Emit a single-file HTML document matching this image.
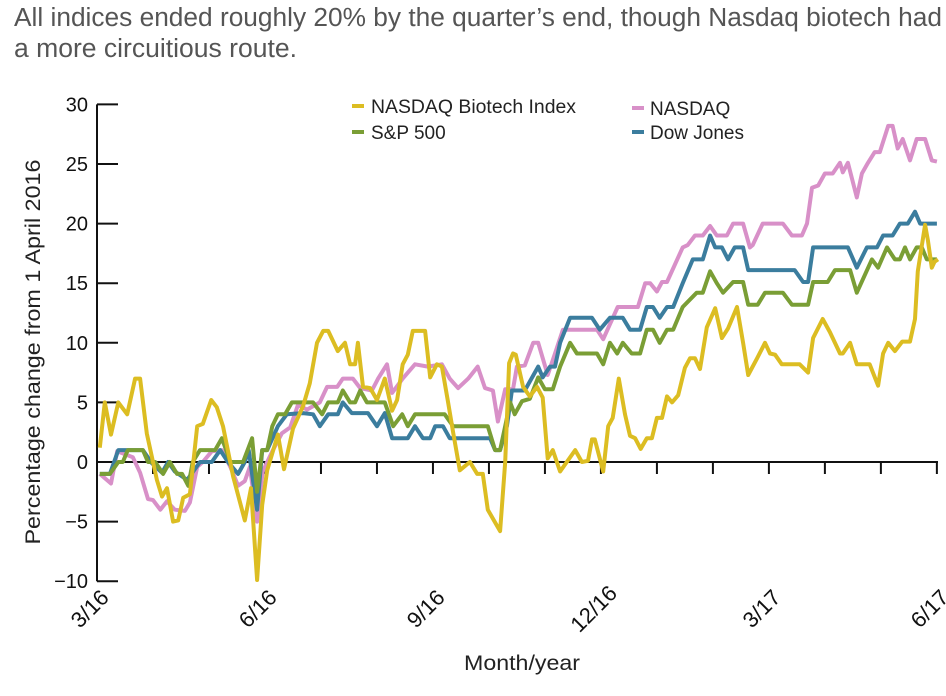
<!DOCTYPE html>
<html><head><meta charset="utf-8"><style>
body{margin:0;background:#fff;width:946px;height:691px;overflow:hidden;font-family:"Liberation Sans",sans-serif}
</style></head><body>
<svg id="chart" width="946" height="691" xmlns="http://www.w3.org/2000/svg" font-family="Liberation Sans, sans-serif">
<text x="14" y="26" font-size="25.5" fill="#555" textLength="928" lengthAdjust="spacingAndGlyphs">All indices ended roughly 20% by the quarter’s end, though Nasdaq biotech had</text>
<text x="14" y="57" font-size="25.5" fill="#555" textLength="283" lengthAdjust="spacingAndGlyphs">a more circuitious route.</text>
<g id="axes"></g>
<g id="series"></g>
<text transform="translate(40,352) rotate(-90)" text-anchor="middle" font-size="21" fill="#222" textLength="385" lengthAdjust="spacingAndGlyphs">Percentage  change from 1 April 2016</text>
<text x="522" y="670" text-anchor="middle" font-size="21" fill="#222" textLength="116" lengthAdjust="spacingAndGlyphs">Month/year</text>
<g font-size="19" fill="#222">
<rect x="352" y="104" width="12" height="4" fill="#dcbd22"/>
<text x="371" y="113" textLength="205" lengthAdjust="spacingAndGlyphs">NASDAQ Biotech Index</text>
<rect x="352" y="130" width="12" height="4" fill="#7a9e35"/>
<text x="371" y="139">S&amp;P 500</text>
<rect x="632" y="106" width="12" height="4" fill="#d890c8"/>
<text x="650" y="115">NASDAQ</text>
<rect x="632" y="130" width="12" height="4" fill="#3b7d9e"/>
<text x="650" y="139">Dow Jones</text>
</g>
</svg>
<script>
const yTicks=[30,25,20,15,10,5,0,-5,-10];
const xTickLabels=["3/16","6/16","9/16","12/16","3/17","6/17"];
const xTickMonths=[0,3,6,9,12,15];
const biotechM=[0.05,0.14,0.25,0.38,0.54,0.68,0.77,0.89,1.07,1.16,1.25,1.36,1.45,1.54,1.66,1.79,1.89,2.04,2.14,2.25,2.43,2.64,2.75,2.86,2.95,3.04,3.23,3.34,3.50,3.68,3.80,3.93,4.04,4.13,4.30,4.43,4.52,4.61,4.66,4.75,4.88,5.00,5.14,5.27,5.36,5.46,5.55,5.64,5.86,5.95,6.07,6.16,6.27,6.36,6.48,6.66,6.79,6.89,6.98,7.20,7.29,7.36,7.43,7.48,7.61,7.73,7.86,7.96,8.05,8.14,8.27,8.39,8.54,8.66,8.77,8.84,8.89,9.04,9.13,9.21,9.32,9.43,9.52,9.61,9.71,9.82,9.91,10.0,10.09,10.18,10.27,10.38,10.5,10.59,10.68,10.77,10.89,11.04,11.16,11.27,11.43,11.54,11.63,11.79,11.93,12.02,12.11,12.23,12.55,12.70,12.79,12.96,13.09,13.27,13.32,13.45,13.57,13.80,13.95,14.04,14.13,14.25,14.38,14.52,14.61,14.66,14.79,14.84,14.91,14.96,15.02];
const biotechV=[1.2,5,2.3,5,4,7,7,2.4,-1.5,-2.9,-2.2,-5,-4.9,-3,-2.7,3,3.2,5.2,4.6,3,-1.2,-4.9,-2.2,-9.9,-3.6,-0.7,2.3,-0.6,2.8,4.7,6.6,10,11,11,9.3,10,8.2,8.2,10,6.3,6.2,5.2,7,4.3,5.2,8.2,9,11,11,7.1,8.2,8,5,2.5,-0.7,0,-1,-1,-4,-5.8,0,8.3,9.1,9,6.3,5.5,6.3,5.4,0.3,1,-0.8,0,1,0,0.1,1.9,1.9,-0.8,3,3.7,7,4,2.2,2,1.1,2,2,3.7,3.7,5.5,5,5.6,7.9,8.7,8.7,7.8,11.3,12.9,10.4,11.2,13,10,7.3,8.7,10,9.1,9,8.2,8.2,7.5,10.4,12,10.9,9.1,9.1,10,8.2,8.2,6.4,9.1,10,9.3,10.1,10.1,12,16,19.9,18.6,16.3,16.8,17];
const nasdaqM=[0.05,0.25,0.36,0.64,0.77,0.91,1.0,1.13,1.25,1.39,1.57,1.66,1.79,1.89,2.05,2.23,2.38,2.52,2.64,2.73,2.86,2.96,3.13,3.30,3.45,3.59,3.75,3.98,4.11,4.29,4.39,4.57,4.70,4.91,5.02,5.18,5.27,5.46,5.68,5.91,6.16,6.30,6.45,6.63,6.80,6.93,7.07,7.16,7.29,7.43,7.5,7.64,7.79,7.88,8.05,8.18,8.32,8.93,9.04,9.30,9.66,9.79,9.88,10.0,10.09,10.18,10.46,10.55,10.68,10.82,10.95,11.07,11.25,11.36,11.54,11.66,11.71,11.89,12.25,12.41,12.59,12.68,12.77,12.88,13.0,13.14,13.27,13.32,13.41,13.57,13.66,13.77,13.89,13.98,14.13,14.21,14.30,14.39,14.52,14.64,14.79,14.91,15.0];
const nasdaqV=[-1,-1.8,0.9,0.4,-0.9,-3.1,-3.2,-4,-3.3,-4,-4.1,-3.4,-0.4,0,0.9,1,-0.4,-2,-1.6,-0.4,-5,-0.8,0.9,2.4,2.9,4.8,4.4,5,6.3,6.3,7,7,6.2,6,7,8.2,5.8,7,8.2,8,8.2,7,6.2,7,8,6.2,6,3.4,6.1,6.1,8,8.1,10,10,7.3,9.1,11.1,11.1,10.3,13,13,15,15,14.3,15.1,15.1,18,18.2,19,19,19.8,19,19,20,20,18,18.2,20,20,19,19,20,23,23.2,24.2,24.2,25.1,24.3,25.1,22.2,24.2,25.1,26,26,28.2,28.2,26.3,27.1,25.3,27.1,27.1,25.3,25.2];
const dowM=[0.05,0.23,0.38,0.82,0.98,1.16,1.27,1.39,1.61,1.84,2.05,2.20,2.34,2.52,2.64,2.71,2.86,2.95,3.04,3.23,3.39,3.68,3.86,3.98,4.13,4.30,4.39,4.55,4.84,5.0,5.14,5.27,5.55,5.68,5.82,5.95,6.04,6.18,6.30,7.02,7.11,7.20,7.32,7.41,7.64,7.88,7.96,8.09,8.18,8.27,8.45,8.84,8.98,9.16,9.39,9.52,9.70,9.82,9.93,10.05,10.18,10.29,10.46,10.64,10.82,10.95,11.04,11.16,11.27,11.39,11.54,11.63,12.46,12.61,12.70,12.79,13.41,13.57,13.75,13.93,14.04,14.21,14.34,14.48,14.61,14.70,15.0];
const dowV=[-1,-1,1,1,-0.1,-0.9,0,-0.8,-1.5,0,0,1,0,-1,0,1,-4,1,1,3,4,4.1,4,3,4,4,5,4.1,4.1,3,4.1,2,2,3,2,2,3,3,2,2,1,1,3,6,6,8,7.1,8,8,10,12.1,12.1,11.1,12.1,12.1,11.1,11.1,13,13,12.1,13,13,15,17,17,19,18,18,17,18,18,16.1,16.1,15.1,15.1,18,18,16.3,18,18,19,19,20,20,21,20,20];
const spM=[0.05,0.23,0.38,0.46,0.55,0.82,0.91,1.04,1.18,1.30,1.43,1.52,1.63,1.71,1.84,2.11,2.23,2.38,2.61,2.77,2.86,2.95,3.04,3.13,3.23,3.36,3.48,3.86,4.02,4.13,4.30,4.39,4.52,4.61,4.70,4.82,5.14,5.29,5.45,5.55,5.68,6.21,6.36,6.98,7.11,7.20,7.29,7.38,7.46,7.59,7.73,7.88,8.0,8.14,8.27,8.45,8.57,8.93,9.04,9.16,9.29,9.39,9.55,9.70,9.82,9.93,10.05,10.18,10.29,10.46,10.71,10.82,10.95,11.07,11.18,11.36,11.54,11.63,11.80,11.93,12.25,12.41,12.70,12.79,13.05,13.18,13.45,13.57,13.84,13.95,14.11,14.25,14.34,14.43,14.52,14.64,14.73,14.82,15.0];
const spV=[-1,-1,0,0,1,1,0,0,-1,0,-1,-1,-2,0,1,1,2,0,0,2,-2.5,1,1,3,4,4,5,5,4,5,5,6,5,5,6,5,5,3,4,3,4,4,3,3,1,1,3,5,4,5.1,5.3,7.1,6.1,6.1,8,10,9.1,9.1,8.2,10,9.1,10,9.1,9.1,11.1,11.1,10,11.1,11.1,13,14.2,14.2,16,15,14.2,15.1,15.1,13.2,13.2,14.2,14.2,13.2,13.2,15.1,15.1,16.1,16.1,14.2,17,16.3,18,17,17,18,17,18,18,17,17];

const NS="http://www.w3.org/2000/svg";
const X0=97,X1=938,Y0=462,PPU=11.92;
const xs=m=>X0+m*(X1-X0)/15.02;
const ys=v=>Y0-v*PPU;
const axes=document.getElementById('axes');
function mk(tag,attrs,parent){const e=document.createElementNS(NS,tag);for(const k in attrs)e.setAttribute(k,attrs[k]);parent.appendChild(e);return e;}
let l=mk('line',{x1:X0,x2:X0,y1:ys(30),y2:ys(-10),stroke:'#111','stroke-width':2},axes);


yTicks.forEach(t=>{
  const tk=mk('line',{x1:X0,x2:X0+21,y1:ys(t),y2:ys(t),stroke:'#111','stroke-width':2},axes);
  
  
  const tx=mk('text',{x:X0-9,y:ys(t)+7,'text-anchor':'end','font-size':20,fill:'#111'},axes);
  tx.textContent=(t<0?'\u2212':'')+Math.abs(t);
  
  
});
const zl=mk('line',{x1:X0,x2:X1,y1:Y0,y2:Y0,stroke:'#111','stroke-width':2},axes);


for(let m=0;m<=15;m++){
  const t=mk('line',{x1:xs(m),x2:xs(m),y1:Y0,y2:Y0+12,stroke:'#111','stroke-width':2},axes);
  
  
}
xTickLabels.forEach((lab,i)=>{
  const x=xs(xTickMonths[i]);
  const tx=mk('text',{x:0,y:0,'text-anchor':'middle','font-size':22,fill:'#111',transform:`translate(${x-2},${614}) rotate(-45)`},axes);
  tx.textContent=lab;
  
  
});
const sg=document.getElementById('series');
function draw(M,V,color,name){
  const d=M.map((m,i)=>(i?'L':'M')+xs(m).toFixed(1)+','+ys(V[i]).toFixed(1)).join(' ');
  const p=mk('path',{d:d,fill:'none',stroke:color,'stroke-width':4,'stroke-linejoin':'round'},sg);
  
  
}
draw(nasdaqM,nasdaqV,'#d890c8','nasdaq-line');
draw(dowM,dowV,'#3b7d9e','dow-jones-line');
draw(spM,spV,'#7a9e35','sp500-line');
draw(biotechM,biotechV,'#dcbd22','nasdaq-biotech-line');
</script>
</body></html>
